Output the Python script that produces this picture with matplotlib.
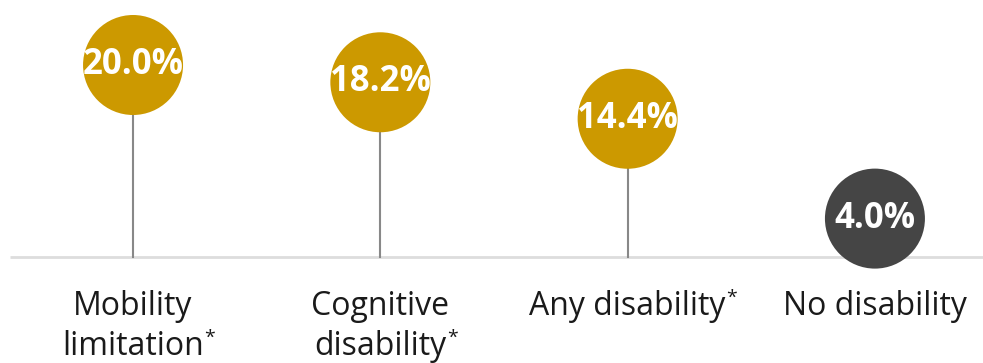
import matplotlib.pyplot as plt

# Share of each group, percent
labels = [["Mobility", "limitation"], ["Cognitive", "disability"], ["Any disability"], ["No disability"]]
starred = [True, True, True, False]
values = [20.0, 18.2, 14.4, 4.0]
colors = ["#CC9900", "#CC9900", "#CC9900", "#454545"]

plt.rcParams['font.family'] = ['Open Sans', 'DejaVu Sans']

fig = plt.figure(figsize=(9.83, 3.63), dpi=100)
ax = fig.add_axes([0, 0, 1, 1])
ax.set_xlim(-0.538, 3.437)
ax.set_ylim(-11.04, 26.77)
ax.axis('off')

xs = list(range(len(values)))

# baseline
ax.plot([-0.497, 3.437], [0, 0], color="#dddddd", lw=2, zorder=1, solid_capstyle='butt')

# stems and bubbles
for x, v, c in zip(xs, values, colors):
    ax.plot([x, x], [0, v], color="#888888", lw=1.5, zorder=2)
ax.scatter(xs, values, s=72 ** 2, c=colors, linewidths=0, zorder=3)

for x, v in zip(xs, values):
    ax.text(x, v, f"{v:.1f}%", color="white", fontsize=25, fontweight="bold",
            ha="center", va="center", zorder=4)

# category labels under the baseline, asterisk set as a small superscript
line_y = [-6.0, -10.2]
for x, lines, star in zip(xs, labels, starred):
    last = None
    for i, line in enumerate(lines):
        last = ax.text(x, line_y[i], line, fontsize=23, color="#1a1a1a",
                       ha="center", va="baseline")
    if star:
        ax.annotate("*", xy=(1, 1), xycoords=last, xytext=(0.5, 0.5),
                    textcoords="offset points", fontsize=14, color="#1a1a1a",
                    ha="left", va="top")

fig.savefig("out.png", dpi=100)
